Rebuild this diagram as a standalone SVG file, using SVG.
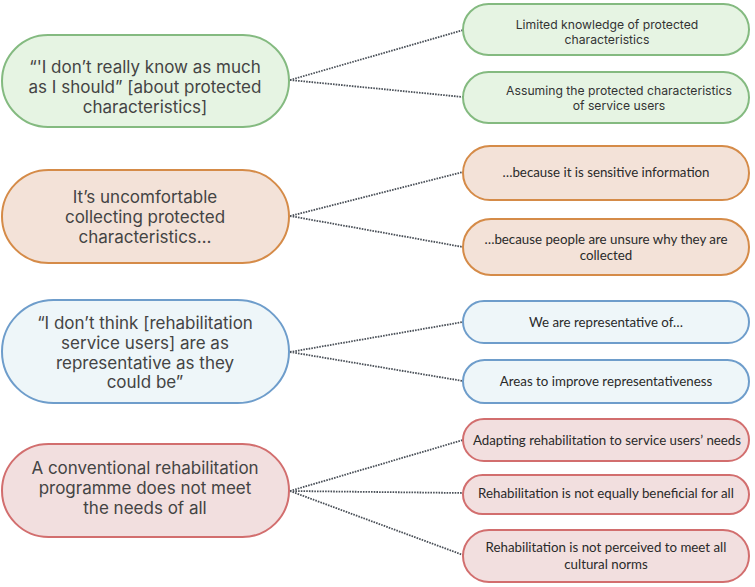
<svg xmlns="http://www.w3.org/2000/svg" width="755" height="587" viewBox="0 0 755 587">
<style>
.n{stroke-width:2}
.g{fill:#e6f4e3;stroke:#84ba80}
.o{fill:#f3e2d8;stroke:#d58b48}
.b{fill:#eef6f9;stroke:#6e9dcb}
.r{fill:#f2dfdf;stroke:#d26e6e}
.big{font-family:Inter,"Liberation Sans",sans-serif;font-size:17px;fill:#444;text-anchor:middle}
.sm{font-family:Inter,"Liberation Sans",sans-serif;font-size:12.2px;fill:#333;text-anchor:middle}
.ss{font-family:Lato,"Open Sans",sans-serif;font-size:13.3px;fill:#2a2a2a;text-anchor:middle}
.c{fill:none;stroke:#4a5058;stroke-width:1.8;stroke-dasharray:1.6 1.1}
</style>
<g id="connectors">
<path class="c" d="M290 80 L463 30 M290 80 L463 97"/>
<path class="c" d="M290 216 L463 172 M290 216 L463 247"/>
<path class="c" d="M290 352 L463 322 M290 352 L463 381"/>
<path class="c" d="M290 491 L463 440 M290 491 L463 493 M290 491 L463 555"/>
</g>
<g id="g0"><rect class="n g" x="2" y="35" width="287" height="92" rx="46"/>
<text class="big"><tspan x="145" y="73">“'I don’t really know as much</tspan><tspan x="145" y="93">as I should” [about protected</tspan><tspan x="145" y="113">characteristics]</tspan></text></g>
<g id="g1"><rect class="n g" x="463" y="4" width="286" height="51" rx="25.5"/>
<text class="sm"><tspan x="607" y="29">Limited knowledge of protected</tspan><tspan x="607" y="44">characteristics</tspan></text></g>
<g id="g2"><rect class="n g" x="463" y="72" width="286" height="51" rx="25.5"/>
<text class="sm"><tspan x="619" y="95">Assuming the protected characteristics</tspan><tspan x="619" y="110">of service users</tspan></text></g>
<g id="o0"><rect class="n o" x="2" y="170" width="287" height="93" rx="46.5"/>
<text class="big"><tspan x="145" y="203">It’s uncomfortable</tspan><tspan x="145" y="223">collecting protected</tspan><tspan x="145" y="243">characteristics…</tspan></text></g>
<g id="o1"><rect class="n o" x="463" y="146" width="286" height="54" rx="27"/>
<text class="ss"><tspan x="606" y="177">…because it is sensitive information</tspan></text></g>
<g id="o2"><rect class="n o" x="463" y="219" width="286" height="56" rx="28"/>
<text class="ss"><tspan x="606" y="244">…because people are unsure why they are</tspan><tspan x="606" y="260">collected</tspan></text></g>
<g id="b0"><rect class="n b" x="2" y="300" width="287" height="103" rx="51.5"/>
<text class="big"><tspan x="145" y="329">“I don’t think [rehabilitation</tspan><tspan x="145" y="349">service users] are as</tspan><tspan x="145" y="369">representative as they</tspan><tspan x="145" y="388">could be”</tspan></text></g>
<g id="b1"><rect class="n b" x="463" y="301" width="286" height="42" rx="21"/>
<text class="ss"><tspan x="606" y="327">We are representative of…</tspan></text></g>
<g id="b2"><rect class="n b" x="463" y="360" width="286" height="43" rx="21.5"/>
<text class="ss"><tspan x="606" y="386">Areas to improve representativeness</tspan></text></g>
<g id="r0"><rect class="n r" x="2" y="444" width="287" height="93" rx="46.5"/>
<text class="big"><tspan x="145" y="474">A conventional rehabilitation</tspan><tspan x="145" y="494">programme does not meet</tspan><tspan x="145" y="514">the needs of all</tspan></text></g>
<g id="r1"><rect class="n r" x="463" y="419" width="286" height="42" rx="21"/>
<text class="ss"><tspan x="607" y="445">Adapting rehabilitation to service users’ needs</tspan></text></g>
<g id="r2"><rect class="n r" x="463" y="475" width="286" height="39" rx="19.5"/>
<text class="ss"><tspan x="606" y="498">Rehabilitation is not equally beneficial for all</tspan></text></g>
<g id="r3"><rect class="n r" x="463" y="530" width="286" height="52" rx="26"/>
<text class="ss"><tspan x="606" y="552">Rehabilitation is not perceived to meet all</tspan><tspan x="606" y="569">cultural norms</tspan></text></g>
</svg>
